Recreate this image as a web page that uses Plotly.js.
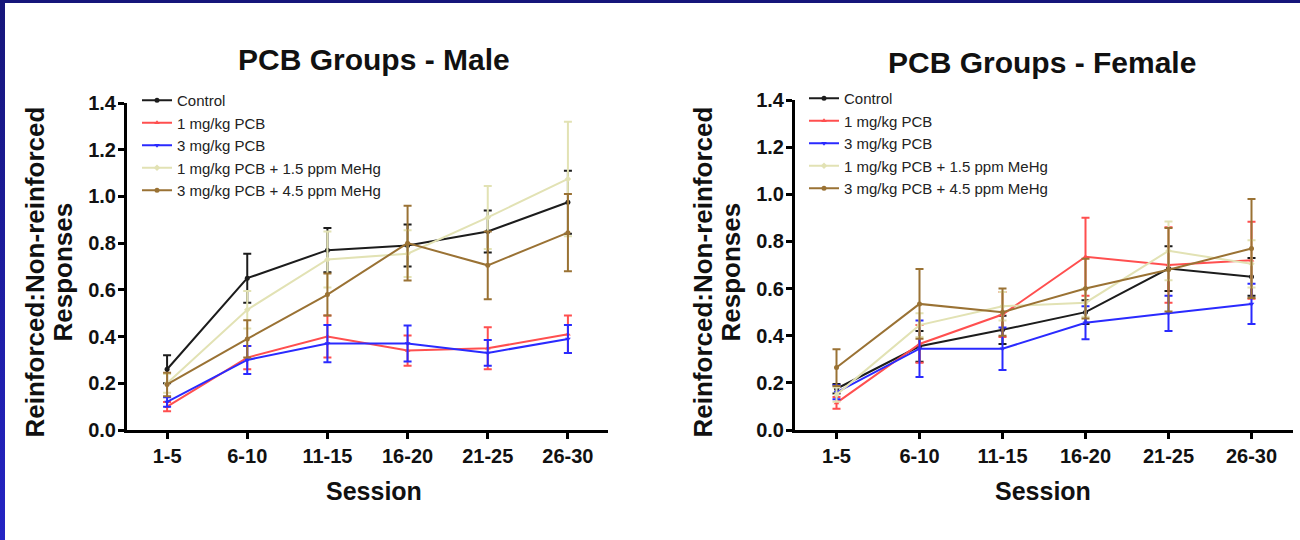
<!DOCTYPE html>
<html>
<head>
<meta charset="utf-8">
<script src="https://cdn.plot.ly/plotly-3.0.1.min.js"></script>
<style>
  html, body { margin: 0; padding: 0; background: #fff; }
  #wrap { position: relative; width: 1300px; height: 540px; overflow: hidden; }
  #plot { width: 1300px; height: 540px; }
  #bt { position: absolute; left: 0; top: 0; width: 1300px; height: 3px; background: #16167a; }
  #bl { position: absolute; left: 0; top: 0; width: 5px; height: 540px; background: linear-gradient(#16167a, #2424c4); }
</style>
</head>
<body>
<div id="wrap"><div id="plot"></div><div id="bt"></div><div id="bl"></div></div>
<script>
// ---- data ----
const sessions = ["1-5", "6-10", "11-15", "16-20", "21-25", "26-30"];
const seriesNames = ["Control", "1 mg/kg PCB", "3 mg/kg PCB", "1 mg/kg PCB + 1.5 ppm MeHg", "3 mg/kg PCB + 4.5 ppm MeHg"];

// Male
const maleControl     = [0.26, 0.65, 0.77, 0.79, 0.85, 0.975];
const maleControlErr  = [0.06, 0.105, 0.095, 0.09, 0.09, 0.135];
const male1PCB        = [0.10, 0.31, 0.40, 0.34, 0.35, 0.41];
const male1PCBErr     = [0.02, 0.05, 0.09, 0.065, 0.09, 0.08];
const male3PCB        = [0.12, 0.30, 0.37, 0.37, 0.33, 0.39];
const male3PCBErr     = [0.02, 0.06, 0.08, 0.077, 0.055, 0.06];
const male1Me         = [0.20, 0.515, 0.73, 0.755, 0.91, 1.075];
const male1MeErr      = [0.04, 0.08, 0.12, 0.10, 0.135, 0.245];
const male3Me         = [0.195, 0.39, 0.58, 0.80, 0.705, 0.845];
const male3MeErr      = [0.05, 0.08, 0.09, 0.16, 0.145, 0.165];

// Female
const femControl      = [0.175, 0.355, 0.425, 0.50, 0.685, 0.65];
const femControlErr   = [0.02, 0.065, 0.06, 0.05, 0.095, 0.08];
const fem1PCB         = [0.115, 0.365, 0.49, 0.735, 0.70, 0.72];
const fem1PCBErr      = [0.025, 0.08, 0.095, 0.165, 0.16, 0.163];
const fem3PCB         = [0.16, 0.345, 0.345, 0.455, 0.495, 0.535];
const fem3PCBErr      = [0.03, 0.12, 0.09, 0.07, 0.075, 0.085];
const fem1Me          = [0.15, 0.445, 0.525, 0.54, 0.76, 0.705];
const fem1MeErr       = [0.03, 0.05, 0.06, 0.06, 0.125, 0.10];
const fem3Me          = [0.265, 0.535, 0.50, 0.60, 0.68, 0.77];
const fem3MeErr       = [0.078, 0.148, 0.10, 0.127, 0.177, 0.21];

const yTicks = [0, 0.2, 0.4, 0.6, 0.8, 1.0, 1.2, 1.4];
const yTickText = ["0.0", "0.2", "0.4", "0.6", "0.8", "1.0", "1.2", "1.4"];

// ---- styles ----
const colors = ["#1c1c1c", "#ff4f4f", "#2a2aff", "#e2e2b4", "#9a7234"];
const symbols = ["circle", "triangle-up", "triangle-down", "diamond", "circle"];

const maleVals = [maleControl, male1PCB, male3PCB, male1Me, male3Me];
const maleErrs = [maleControlErr, male1PCBErr, male3PCBErr, male1MeErr, male3MeErr];
const femVals  = [femControl, fem1PCB, fem3PCB, fem1Me, fem3Me];
const femErrs  = [femControlErr, fem1PCBErr, fem3PCBErr, fem1MeErr, fem3MeErr];

const FONT = "Liberation Sans, Arial, Helvetica, sans-serif";
const traces = [];
function addSet(vals, errs, xa, ya, leg) {
  for (let i = 0; i < vals.length; i++) {
    traces.push({
      type: "scatter", mode: "lines+markers",
      x: sessions, y: vals[i], name: seriesNames[i],
      xaxis: xa, yaxis: ya, legend: leg,
      line: { color: colors[i], width: 2 },
      marker: { color: colors[i], size: 5, symbol: symbols[i] },
      error_y: { type: "data", array: errs[i], visible: true, color: colors[i], thickness: 2, width: 4 }
    });
  }
}
addSet(maleVals, maleErrs, "x", "y", "legend");
addSet(femVals, femErrs, "x2", "y2", "legend2");

function xax(dom, anchor) {
  return {
    domain: dom, anchor: anchor, type: "category", range: [-0.5, 5.5],
    showline: true, linewidth: 3, linecolor: "#000", mirror: false,
    ticks: "outside", ticklen: 6, tickwidth: 3, tickcolor: "#000",
    showgrid: false, zeroline: false, fixedrange: true,
    tickfont: { family: FONT, size: 20, color: "#111", weight: "bold" }
  };
}
function yax(dom, anchor) {
  return {
    domain: dom, anchor: anchor, range: [0, 1.4],
    tickvals: yTicks, ticktext: yTickText,
    showline: true, linewidth: 3, linecolor: "#000",
    ticks: "outside", ticklen: 6, tickwidth: 3, tickcolor: "#000",
    ticklabelstandoff: -2,
    showgrid: false, zeroline: false, fixedrange: true,
    tickfont: { family: FONT, size: 20, color: "#111", weight: "bold" }
  };
}
function legendAt(xpx, ypx) {
  return {
    x: xpx / 1300, y: 1 - ypx / 540, xanchor: "left", yanchor: "top",
    bgcolor: "rgba(0,0,0,0)", borderwidth: 0,
    font: { family: FONT, size: 15, color: "#222" },
    tracegroupgap: 0
  };
}
const bold = (t, size, x, y, angle) => ({
  text: "<b>" + t + "</b>", xref: "paper", yref: "paper",
  x: x / 1300, y: 1 - y / 540, xanchor: "center", yanchor: "middle",
  showarrow: false, textangle: angle || 0,
  font: { family: FONT, size: size, color: "#111" }
});

const layout = {
  width: 1300, height: 540,
  margin: { l: 0, r: 0, t: 0, b: 0 },
  paper_bgcolor: "#fff", plot_bgcolor: "rgba(0,0,0,0)",
  showlegend: true,
  xaxis: xax([127 / 1300, 608 / 1300], "y"),
  yaxis: yax([110 / 540, 437 / 540], "x"),
  xaxis2: xax([795 / 1300, 1293 / 1300], "y2"),
  yaxis2: yax([110 / 540, 440 / 540], "x2"),
  legend: legendAt(137, 84),
  legend2: legendAt(804, 82),
  annotations: [
    bold("PCB Groups - Male", 30, 374, 59),
    bold("PCB Groups - Female", 30, 1042, 62),
    bold("Session", 25, 374, 491),
    bold("Session", 25, 1043, 491),
    bold("Reinforced:Non-reinforced", 26, 34.5, 272, -90),
    bold("Responses", 26, 62.5, 272, -90),
    bold("Reinforced:Non-reinforced", 26, 702.5, 272, -90),
    bold("Responses", 26, 730.5, 272, -90)
  ]
};

Plotly.newPlot("plot", traces, layout, { displayModeBar: false, staticPlot: true });
</script>
</body>
</html>
